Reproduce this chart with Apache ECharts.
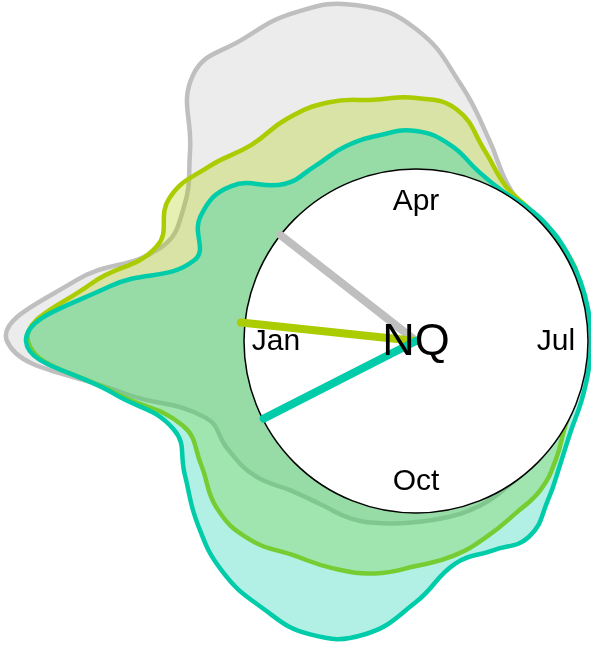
<!DOCTYPE html>
<html>
<head>
<meta charset="utf-8">
<script src="https://cdn.jsdelivr.net/npm/echarts@6/dist/echarts.min.js"></script>
<style>
  html, body { margin: 0; padding: 0; background: #fff; }
  #chart { width: 591px; height: 646px; }
</style>
</head>
<body>
<div id="chart"></div>
<script>
// angle in degrees measured from Jan, going clockwise round the year
const angles = [0, 10, 20, 30, 40, 50, 60, 70, 80, 90, 100, 110,
  120, 130, 140, 150, 160, 170, 180, 190, 200, 210, 220, 230,
  240, 250, 260, 270, 280, 290, 300, 310, 320, 330, 340, 350];

const greyR = [409, 346, 272, 268, 295, 347, 348, 350, 341, 312, 260, 214,
  182, 170, 165, 162, 160, 158, 158, 158, 160, 162, 165, 169,
  173, 177, 179, 181, 185, 189, 189, 195, 210, 217, 224, 298];

const limeR = [388, 330, 276, 285, 271, 256, 257, 254, 245, 243, 235, 202,
  179, 174, 174, 175, 174, 170, 168, 168, 169, 172, 183, 194,
  199, 208, 218, 225, 236, 242, 247, 259, 260, 248, 248, 304];

const tealR = [390, 312, 236, 249, 241, 205, 202, 207, 209, 210, 199, 181,
  173, 174, 175, 175, 175, 175, 175, 175, 176, 179, 189, 206,
  226, 223, 226, 261, 298, 312, 308, 301, 285, 267, 258, 306];

const monthTicks = [0, 90, 180, 270];
const monthLabels = ['Jan', 'Apr', 'Jul', 'Oct'];

const handAngles = [38, 6, 333];      // grey, lime, teal
const handLengths = [172, 176, 171];
const clockRadius = 172;
const labelRadius = 140;
const centerLabel = 'NQ';

const chart = echarts.init(document.getElementById('chart'));

function blob(radii, color, fill, z) {
  return {
    type: 'custom',
    coordinateSystem: 'polar',
    silent: true,
    z: z,
    data: radii.map((r, i) => [r, angles[i]]),
    renderItem: function (params, api) {
      if (params.dataIndex !== 0) return null;
      const pts = radii.map((r, i) => api.coord([r, angles[i]]));
      return {
        type: 'polygon',
        shape: { points: pts, smooth: 0.45 },
        style: { fill: fill, stroke: color, lineWidth: 4.5 }
      };
    }
  };
}

function hand(i, color) {
  return {
    type: 'line',
    coordinateSystem: 'polar',
    silent: true,
    z: 6,
    symbol: 'none',
    lineStyle: { color: color, width: 8, cap: 'round' },
    data: [[0, handAngles[i]], [handLengths[i], handAngles[i]]]
  };
}

const option = {
  animation: false,
  backgroundColor: '#fff',
  polar: { center: [416, 341], radius: 420 },
  angleAxis: { type: 'value', min: 0, max: 360, startAngle: 180, clockwise: true, show: false },
  radiusAxis: { type: 'value', min: 0, max: 420, show: false },
  series: [
    blob(greyR, '#bfbfbf', 'rgba(191,191,191,0.3)', 2),
    blob(limeR, '#aacc00', 'rgba(170,204,0,0.3)', 3),
    blob(tealR, '#00ccaa', 'rgba(0,204,170,0.3)', 4),
    {
      type: 'custom',
      coordinateSystem: 'polar',
      silent: true,
      z: 5,
      data: [[0, 0]],
      renderItem: function (params, api) {
        const c = api.coord([0, 0]);
        const e = api.coord([clockRadius, 90]);
        const r = Math.hypot(e[0] - c[0], e[1] - c[1]);
        return {
          type: 'circle',
          shape: { cx: c[0], cy: c[1], r: r },
          style: { fill: '#fff', stroke: '#000', lineWidth: 1.5 }
        };
      }
    },
    hand(0, '#bfbfbf'),
    hand(1, '#aacc00'),
    hand(2, '#00ccaa'),
    {
      type: 'custom',
      coordinateSystem: 'polar',
      silent: true,
      z: 8,
      data: monthTicks.map(a => [labelRadius, a]),
      renderItem: function (params, api) {
        const p = api.coord([labelRadius, monthTicks[params.dataIndex]]);
        return {
          type: 'text',
          x: p[0], y: p[1] + 1,
          style: {
            text: monthLabels[params.dataIndex],
            font: '30px "Liberation Sans", Arial, sans-serif',
            fill: '#000', align: 'center', verticalAlign: 'middle'
          }
        };
      }
    },
    {
      type: 'custom',
      coordinateSystem: 'polar',
      silent: true,
      z: 9,
      data: [[0, 0]],
      renderItem: function (params, api) {
        const p = api.coord([0, 0]);
        return {
          type: 'text',
          x: p[0], y: p[1] + 2,
          style: {
            text: centerLabel,
            font: '45px "Liberation Sans", Arial, sans-serif',
            fill: '#000', align: 'center', verticalAlign: 'middle'
          }
        };
      }
    }
  ]
};

chart.setOption(option);
</script>
</body>
</html>
